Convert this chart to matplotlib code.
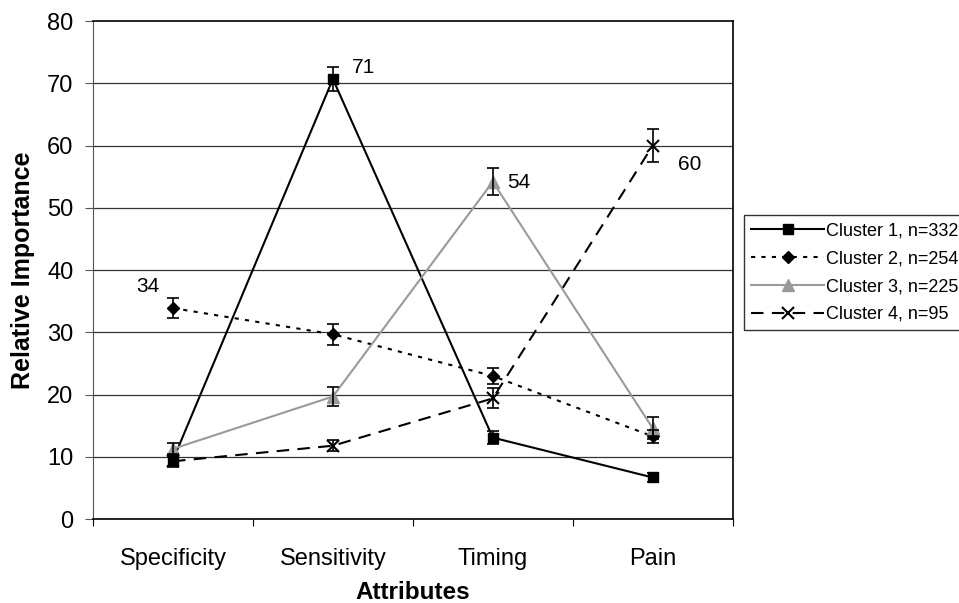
import numpy as np
import matplotlib.pyplot as plt

plt.rcParams['font.family'] = ['Liberation Sans', 'DejaVu Sans']

attributes = ['Specificity', 'Sensitivity', 'Timing', 'Pain']
labels = ['Cluster 1, n=332', 'Cluster 2, n=254', 'Cluster 3, n=225', 'Cluster 4, n=95']

c1 = [9.5, 70.7, 13.1, 6.7]
c1_err = [0.9, 2.0, 1.0, 0.7]
c2 = [33.9, 29.7, 23.0, 13.3]
c2_err = [1.6, 1.7, 1.3, 1.1]
c3 = [11.3, 19.7, 54.2, 14.6]
c3_err = [1.0, 1.5, 2.2, 1.8]
c4 = [9.3, 11.8, 19.4, 60.0]
c4_err = [0.9, 0.9, 1.6, 2.6]

peak_text = ['34', '71', '54', '60']
peak_pos = [(-0.16, 37.3), (1.19, 72.6), (2.16, 54.0), (3.23, 57.0)]

fig = plt.figure(figsize=(9.59, 6.03), dpi=100)
ax = fig.add_axes([0.097, 0.139, 0.667, 0.826])

x = np.arange(len(attributes))
ax.set_xlim(-0.5, 3.5)
ax.set_ylim(0, 80)

for v in range(10, 80, 10):
    ax.axhline(v, color='#333333', lw=0.9, zorder=0)

styles = [
    (c1, c1_err, dict(color='black', ls='-', marker='s', ms=7, lw=1.5)),
    (c2, c2_err, dict(color='black', ls=(0, (2, 3)), marker='D', ms=6, lw=1.5)),
    (c3, c3_err, dict(color='#9a9a9a', ls='-', marker='^', ms=8, lw=1.5)),
    (c4, c4_err, dict(color='black', ls=(0, (6, 4)), marker='x', ms=9, mew=1.5, lw=1.5)),
]
handles = []
for (vals, err, st), lab in zip(styles, labels):
    ax.errorbar(x, vals, yerr=err, fmt='none', ecolor='black', elinewidth=1.2,
                capsize=4.3, capthick=1.2, zorder=4)
    h, = ax.plot(x, vals, label=lab, zorder=3, **st)
    handles.append(h)

for t, (px, py) in zip(peak_text, peak_pos):
    ax.text(px, py, t, fontsize=15, ha='center', va='center')

ax.set_xticks(np.arange(-0.5, 4, 1))
ax.set_xticklabels([])
ax.set_xticks(x, minor=True)
ax.set_xticklabels(attributes, minor=True, fontsize=17)
ax.tick_params(axis='x', which='minor', length=0, pad=21)
ax.tick_params(axis='x', which='major', length=5, direction='out', color='black')
ax.set_yticks(range(0, 81, 10))
ax.tick_params(axis='y', labelsize=17, length=6, pad=8, direction='out', color='#555555')

ax.set_xlabel('Attributes', fontsize=17.5, fontweight='bold', labelpad=8)
ax.set_ylabel('Relative Importance', fontsize=18, fontweight='bold', labelpad=9)

for s in ['top', 'right', 'bottom']:
    ax.spines[s].set_color('black')
    ax.spines[s].set_linewidth(1.2)
ax.spines['left'].set_color('#555555')

leg = fig.legend(handles=handles, loc='upper left', bbox_to_anchor=(0.776, 0.643),
                 fontsize=13, frameon=True, fancybox=False, edgecolor='black',
                 handlelength=4.0, handletextpad=0.15, borderaxespad=0,
                 borderpad=0.4, labelspacing=0.6)
leg.get_frame().set_linewidth(1.0)

fig.savefig('out.png', dpi=100)
